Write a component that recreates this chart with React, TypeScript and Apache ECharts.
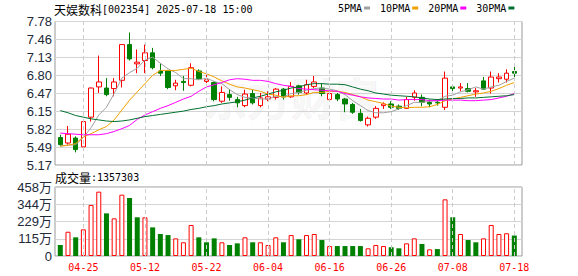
import React, { useEffect, useRef } from 'react';
import * as echarts from 'echarts';

const dates = [
  '04-22', '04-23', '04-24', '04-25', '04-28', '04-29', '04-30', '05-06', '05-07', '05-08',
  '05-09', '05-12', '05-13', '05-14', '05-15', '05-16', '05-19', '05-20', '05-21', '05-22',
  '05-23', '05-26', '05-27', '05-28', '05-29', '05-30', '06-03', '06-04', '06-05', '06-06',
  '06-09', '06-10', '06-11', '06-12', '06-13', '06-16', '06-17', '06-18', '06-19', '06-20',
  '06-23', '06-24', '06-25', '06-26', '06-27', '06-30', '07-01', '07-02', '07-03', '07-04',
  '07-07', '07-08', '07-09', '07-10', '07-11', '07-14', '07-15', '07-16', '07-17', '07-18',
];

const opens = [
  5.67, 5.57, 5.66, 5.50, 6.04, 6.59, 6.57, 6.56, 6.71, 7.36,
  7.01, 7.07, 7.21, 6.88, 6.88, 6.61, 6.69, 6.62, 6.88, 6.69,
  6.67, 6.33, 6.45, 6.36, 6.25, 6.47, 6.25, 6.37, 6.40, 6.55,
  6.41, 6.61, 6.48, 6.60, 6.57, 6.36, 6.45, 6.37, 6.27, 6.11,
  5.90, 6.04, 6.25, 6.28, 6.24, 6.20, 6.40, 6.40, 6.31, 6.31,
  6.22, 6.59, 6.57, 6.56, 6.50, 6.70, 6.57, 6.74, 6.73, 6.87,
];
const closes = [
  5.54, 5.73, 5.45, 5.96, 6.57, 6.68, 6.45, 6.68, 7.36, 7.10,
  7.04, 7.21, 6.94, 6.84, 6.58, 6.66, 6.67, 6.94, 6.74, 6.72,
  6.36, 6.49, 6.40, 6.30, 6.46, 6.30, 6.39, 6.41, 6.55, 6.41,
  6.60, 6.49, 6.63, 6.68, 6.47, 6.47, 6.37, 6.28, 6.13, 5.98,
  6.02, 6.20, 6.28, 6.22, 6.20, 6.36, 6.48, 6.31, 6.28, 6.30,
  6.75, 6.56, 6.59, 6.51, 6.52, 6.55, 6.77, 6.77, 6.84, 6.84,
];
const lows = [
  5.51, 5.54, 5.40, 5.49, 5.96, 6.48, 6.42, 6.42, 6.58, 7.07,
  6.84, 6.84, 6.91, 6.79, 6.55, 6.53, 6.52, 6.60, 6.72, 6.66,
  6.33, 6.30, 6.34, 6.22, 6.22, 6.27, 6.22, 6.33, 6.36, 6.36,
  6.39, 6.45, 6.45, 6.57, 6.42, 6.33, 6.33, 6.13, 6.10, 5.96,
  5.87, 6.01, 6.19, 6.19, 6.17, 6.19, 6.34, 6.24, 6.22, 6.25,
  6.17, 6.45, 6.51, 6.49, 6.41, 6.54, 6.47, 6.67, 6.67, 6.77,
];
const highs = [
  5.72, 5.88, 5.69, 5.99, 6.58, 7.16, 6.75, 6.75, 7.36, 7.58,
  7.27, 7.36, 7.30, 7.02, 6.90, 6.72, 6.79, 7.02, 6.91, 6.81,
  6.69, 6.60, 6.55, 6.41, 6.54, 6.54, 6.48, 6.51, 6.57, 6.57,
  6.68, 6.63, 6.72, 6.79, 6.66, 6.51, 6.48, 6.39, 6.30, 6.19,
  6.05, 6.24, 6.31, 6.33, 6.27, 6.41, 6.53, 6.45, 6.36, 6.37,
  6.87, 6.61, 6.66, 6.66, 6.57, 6.77, 6.87, 6.84, 6.91, 7.02,
];

const ma5 = [
  5.52, 5.53, 5.54, 5.67, 5.85, 6.08, 6.22, 6.47, 6.75, 6.85,
  6.93, 7.08, 7.13, 7.02, 6.92, 6.85, 6.74, 6.74, 6.72, 6.75,
  6.69, 6.65, 6.54, 6.45, 6.40, 6.39, 6.37, 6.37, 6.42, 6.41,
  6.47, 6.49, 6.53, 6.56, 6.57, 6.55, 6.52, 6.45, 6.34, 6.25,
  6.16, 6.12, 6.12, 6.14, 6.19, 6.25, 6.31, 6.31, 6.33, 6.34,
  6.42, 6.44, 6.50, 6.54, 6.59, 6.55, 6.59, 6.62, 6.69, 6.75,
];
const ma10 = [
  5.51, 5.53, 5.56, 5.68, 5.74, 5.81, 5.87, 5.99, 6.17, 6.35,
  6.50, 6.65, 6.80, 6.89, 6.89, 6.89, 6.91, 6.93, 6.87, 6.83,
  6.77, 6.70, 6.64, 6.59, 6.57, 6.54, 6.51, 6.46, 6.44, 6.40,
  6.43, 6.43, 6.45, 6.49, 6.49, 6.51, 6.51, 6.49, 6.45, 6.41,
  6.35, 6.32, 6.29, 6.24, 6.22, 6.21, 6.22, 6.22, 6.23, 6.27,
  6.34, 6.37, 6.40, 6.43, 6.46, 6.48, 6.51, 6.56, 6.62, 6.67,
];
const ma20 = [
  5.75, 5.74, 5.73, 5.72, 5.72, 5.72, 5.74, 5.78, 5.83, 5.89,
  6.00, 6.08, 6.14, 6.20, 6.25, 6.31, 6.37, 6.42, 6.51, 6.59,
  6.63, 6.67, 6.72, 6.74, 6.73, 6.71, 6.71, 6.69, 6.65, 6.62,
  6.60, 6.56, 6.55, 6.54, 6.53, 6.52, 6.51, 6.47, 6.44, 6.41,
  6.39, 6.38, 6.37, 6.37, 6.35, 6.36, 6.36, 6.36, 6.34, 6.34,
  6.35, 6.35, 6.35, 6.34, 6.34, 6.35, 6.36, 6.39, 6.42, 6.47,
];
const ma30 = [
  6.16, 6.12, 6.07, 6.04, 6.01, 5.99, 5.97, 5.96, 5.97, 5.99,
  6.02, 6.05, 6.07, 6.09, 6.11, 6.13, 6.15, 6.18, 6.20, 6.23,
  6.25, 6.28, 6.30, 6.32, 6.35, 6.39, 6.42, 6.46, 6.50, 6.53,
  6.57, 6.59, 6.63, 6.65, 6.65, 6.64, 6.64, 6.63, 6.59, 6.55,
  6.52, 6.48, 6.46, 6.44, 6.43, 6.42, 6.41, 6.39, 6.37, 6.36,
  6.37, 6.38, 6.38, 6.39, 6.39, 6.40, 6.41, 6.42, 6.43, 6.45,
];

const volumes = [
  730000, 1610000, 1240000, 1770000, 3390000, 4270000, 2830000, 2500000, 4070000, 3850000,
  2570000, 2570000, 1900000, 1460000, 1390000, 1170000, 910000, 2060000, 1240000, 910000,
  1170000, 910000, 730000, 840000, 1240000, 910000, 910000, 730000, 1240000, 910000,
  1390000, 1110000, 1390000, 1460000, 1060000, 660000, 660000, 660000, 660000, 660000,
  510000, 730000, 660000, 580000, 510000, 840000, 1170000, 800000, 440000, 460000,
  3760000, 2570000, 1460000, 1060000, 910000, 1170000, 2060000, 1460000, 1510000, 1357303,
];
// 1 = red (rise), 0 = green (fall), as coloured in the volume panel
const volumeUp = [
  0, 1, 0, 1, 1, 1, 0, 1, 1, 0,
  0, 1, 0, 0, 0, 1, 1, 1, 0, 0,
  0, 1, 0, 0, 1, 0, 1, 1, 1, 0,
  1, 0, 1, 1, 0, 1, 0, 0, 0, 0,
  1, 1, 1, 0, 0, 1, 1, 0, 1, 0,
  1, 0, 1, 0, 0, 1, 1, 1, 1, 0,
];

const priceTicks = ['5.17', '5.49', '5.82', '6.15', '6.47', '6.80', '7.13', '7.46', '7.78'];
const volumeTicks = ['0', '115万', '229万', '344万', '458万'];
const labelDates = ['04-25', '05-12', '05-22', '06-04', '06-16', '06-26', '07-08', '07-18'];
const maNames = ['5PMA', '10PMA', '20PMA', '30PMA'];
const maColors = ['#a0a0a0', '#f0a000', '#ff00ff', '#007030'];

const stockName = '天娱数科';
const stockInfo = '[002354] 2025-07-18 15:00';
const volumeLabel = '成交量';
const lastVolume = '1357303';
const watermark = '东方财富';

const PRICE_MIN = 5.17;
const PRICE_MAX = 7.78;
const VOL_MAX = 4580000;

const RED = '#ff0000';
const GREEN = '#008000';
const GRID_LINE = '#d4d4d4';
const FRAME = '#999999';
const MONO = 'DejaVu Sans Mono';
const CJK = 'Noto Sans CJK SC';

const FRAME_LEFT = 55;
const FRAME_WIDTH = 467;
const DATA_LEFT = 56.45;
const DATA_WIDTH = 461.7;
const MAIN_TOP = 21.5;
const MAIN_H = 143.5;
const VOL_TOP = 187;
const VOL_H = 69;

function buildOption(): any {
  const dashed = {
    silent: true,
    symbol: 'none',
    label: { show: false },
    lineStyle: { type: [4, 3], color: '#cccccc', width: 1 },
    emphasis: { disabled: true },
    data: labelDates.map((d) => ({ xAxis: d })),
  };
  const maSeries = [ma5, ma10, ma20, ma30].map((arr, k) => ({
    name: maNames[k],
    type: 'line',
    xAxisIndex: 1,
    yAxisIndex: 1,
    data: arr,
    showSymbol: false,
    symbol: 'none',
    color: maColors[k],
    lineStyle: { width: 1, color: maColors[k] },
    z: 3,
  }));
  const richText = {
    a: { fontFamily: CJK, fontSize: 12, fontWeight: 'normal', color: '#000', lineHeight: 14 },
    b: { fontFamily: MONO, fontSize: 10, fontWeight: 'normal', color: '#000', lineHeight: 14 },
  };
  return {
    animation: false,
    backgroundColor: '#ffffff',
    title: [
      {
        text: `{a|${stockName}}{b|${stockInfo}}`,
        left: 54,
        top: 2,
        padding: 0,
        textStyle: { fontWeight: 'normal', rich: richText },
      },
      {
        text: `{a|${volumeLabel}}{b|:${lastVolume}}`,
        left: 55,
        top: 170,
        padding: 0,
        textStyle: { fontWeight: 'normal', rich: richText },
      },
    ],
    legend: {
      data: maNames,
      left: 338,
      top: 3,
      padding: 0,
      align: 'right',
      icon: 'rect',
      itemWidth: 6,
      itemHeight: 3,
      itemGap: 10,
      selectedMode: false,
      textStyle: { fontFamily: MONO, fontSize: 10, color: '#000', padding: [0, -3, 0, 0] },
    },
    graphic: [
      {
        type: 'text',
        x: 291,
        y: 97,
        z: -10,
        silent: true,
        style: {
          text: watermark,
          fontFamily: CJK,
          fontSize: 44,
          fontWeight: 'bold',
          fill: 'rgba(0,0,0,0.035)',
          stroke: 'rgba(0,0,0,0.05)',
          lineWidth: 1,
          align: 'center',
          verticalAlign: 'middle',
        },
      },
    ],
    grid: [
      { left: FRAME_LEFT, top: MAIN_TOP, width: FRAME_WIDTH, height: MAIN_H, show: true, borderColor: FRAME, borderWidth: 1, backgroundColor: 'transparent' },
      { left: DATA_LEFT, top: MAIN_TOP, width: DATA_WIDTH, height: MAIN_H },
      { left: FRAME_LEFT, top: VOL_TOP, width: FRAME_WIDTH, height: VOL_H, show: true, borderColor: FRAME, borderWidth: 1, backgroundColor: 'transparent' },
      { left: DATA_LEFT, top: VOL_TOP, width: DATA_WIDTH, height: VOL_H },
    ],
    xAxis: [
      { gridIndex: 0, type: 'value', min: 0, max: 1, show: false },
      {
        gridIndex: 1, type: 'category', data: dates, boundaryGap: true,
        axisLine: { show: false }, axisTick: { show: false }, axisLabel: { show: false }, splitLine: { show: false },
      },
      { gridIndex: 2, type: 'value', min: 0, max: 1, show: false },
      {
        gridIndex: 3, type: 'category', data: dates, boundaryGap: true,
        axisLine: { show: false }, axisTick: { show: false }, splitLine: { show: false },
        axisLabel: {
          show: true,
          interval: (_i: number, v: string) => labelDates.includes(v),
          color: RED,
          fontFamily: MONO,
          fontSize: 10,
          margin: 6,
        },
      },
    ],
    yAxis: [
      {
        gridIndex: 0, type: 'value', min: 0, max: priceTicks.length - 1, interval: 1,
        axisLine: { show: false }, axisTick: { show: false },
        axisLabel: {
          formatter: (v: number) => priceTicks[Math.round(v)] ?? '',
          color: '#222a3a', fontFamily: 'Liberation Sans', fontSize: 13, margin: 3,
        },
        splitLine: { show: true, lineStyle: { color: GRID_LINE, width: 1 } },
      },
      { gridIndex: 1, type: 'value', min: PRICE_MIN, max: PRICE_MAX, show: false, splitLine: { show: false } },
      {
        gridIndex: 2, type: 'value', min: 0, max: volumeTicks.length - 1, interval: 1,
        axisLine: { show: false }, axisTick: { show: false },
        axisLabel: {
          formatter: (v: number) => volumeTicks[Math.round(v)] ?? '',
          color: '#222a3a', fontFamily: `Liberation Sans, ${CJK}`, fontSize: 13, margin: 3,
        },
        splitLine: { show: true, lineStyle: { color: GRID_LINE, width: 1 } },
      },
      { gridIndex: 3, type: 'value', min: 0, max: VOL_MAX, show: false, splitLine: { show: false } },
    ],
    series: [
      {
        type: 'candlestick',
        xAxisIndex: 1,
        yAxisIndex: 1,
        barWidth: 5,
        data: dates.map((_, i) => [opens[i], closes[i], lows[i], highs[i]]),
        itemStyle: {
          color: '#ffffff',
          color0: GREEN,
          borderColor: RED,
          borderColor0: GREEN,
          borderWidth: 1,
        },
        markLine: dashed,
        z: 2,
      },
      ...maSeries,
      {
        type: 'bar',
        xAxisIndex: 3,
        yAxisIndex: 3,
        barWidth: 5,
        data: volumes.map((v, i) => ({
          value: v,
          itemStyle: volumeUp[i]
            ? { color: '#ffffff', borderColor: RED, borderWidth: 1 }
            : { color: GREEN, borderColor: GREEN, borderWidth: 0 },
        })),
        markLine: dashed,
        z: 2,
      },
    ],
  };
}

export default function App() {
  const ref = useRef<HTMLDivElement>(null);
  useEffect(() => {
    if (!ref.current) return;
    const chart = echarts.init(ref.current, null, { renderer: 'svg' });
    chart.setOption(buildOption());
    return () => chart.dispose();
  }, []);
  return (
    <div
      ref={ref}
      style={{ position: 'absolute', left: 0, top: 0, width: 578, height: 276, background: '#fff' }}
    />
  );
}
